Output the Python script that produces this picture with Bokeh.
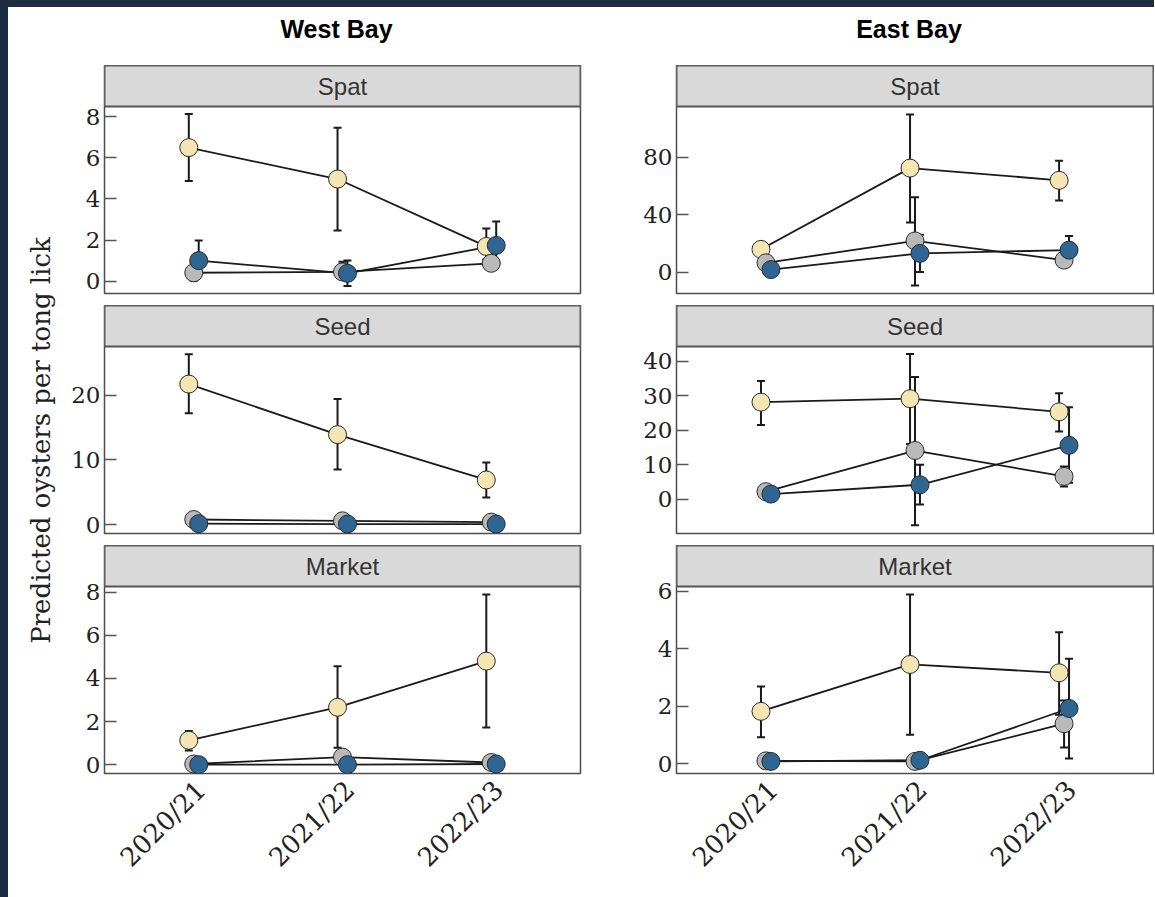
import math

from bokeh.embed import file_html
from bokeh.layouts import column, row
from bokeh.models import (BoxAnnotation, ColumnDataSource, FixedTicker, Label,
                          Range1d, Spacer, TeeHead, Whisker)
from bokeh.plotting import figure
from bokeh.resources import INLINE
from bokeh.transform import dodge

# ---------------------------------------------------------------- data
seasons = ["2020/21", "2021/22", "2022/23"]
bays = ["West Bay", "East Bay"]
size_classes = ["Spat", "Seed", "Market"]

# series order: cream, grey, blue (rows); seasons (columns)
west_spat_mean = [[6.50, 4.97, 1.69], [0.41, 0.45, 0.87], [1.00, 0.38, 1.74]]
west_spat_lo = [[4.88, 2.46, 1.05], [0.02, 0.10, 0.55], [0.45, -0.23, 0.95]]
west_spat_hi = [[8.13, 7.47, 2.56], [0.90, 0.95, 1.20], [1.98, 1.00, 2.90]]

west_seed_mean = [[21.7, 13.9, 6.9], [0.8, 0.6, 0.4], [0.15, 0.10, 0.10]]
west_seed_lo = [[17.2, 8.5, 4.2], [0.3, 0.2, 0.1], [0.0, 0.0, 0.0]]
west_seed_hi = [[26.3, 19.4, 9.6], [1.3, 1.0, 0.7], [0.4, 0.3, 0.3]]

west_market_mean = [[1.13, 2.66, 4.80], [0.03, 0.35, 0.10], [0.00, 0.00, 0.03]]
west_market_lo = [[0.66, 0.78, 1.72], [0.00, 0.05, 0.00], [0.00, 0.00, 0.00]]
west_market_hi = [[1.56, 4.56, 7.89], [0.08, 0.60, 0.25], [0.02, 0.02, 0.08]]

east_spat_mean = [[15.8, 72.5, 64.0], [6.4, 21.7, 8.3], [1.7, 13.0, 15.3]]
east_spat_lo = [[12.0, 34.6, 49.9], [3.0, -9.4, 5.0], [0.5, 0.0, 8.0]]
east_spat_hi = [[19.0, 110.0, 77.6], [10.0, 52.2, 12.0], [3.5, 26.0, 25.2]]

east_seed_mean = [[28.1, 29.1, 25.3], [2.2, 14.1, 6.6], [1.5, 4.2, 15.6]]
east_seed_lo = [[21.5, 16.0, 19.6], [1.2, -7.5, 3.7], [0.8, -1.5, 4.8]]
east_seed_hi = [[34.2, 42.0, 30.7], [3.2, 35.4, 9.5], [2.4, 10.0, 26.6]]

east_market_mean = [[1.82, 3.45, 3.16], [0.10, 0.08, 1.39], [0.08, 0.12, 1.92]]
east_market_lo = [[0.92, 1.01, 1.70], [0.02, 0.02, 0.56], [0.02, 0.03, 0.18]]
east_market_hi = [[2.68, 5.88, 4.57], [0.20, 0.15, 2.20], [0.15, 0.22, 3.65]]

# axis limits and ticks per panel
west_spat_ylim = [-0.6, 8.5]
west_seed_ylim = [-1.36, 27.5]
west_market_ylim = [-0.41, 8.26]
east_spat_ylim = [-15.0, 115.5]
east_seed_ylim = [-9.9, 44.2]
east_market_ylim = [-0.34, 6.16]

west_spat_ticks = [0, 2, 4, 6, 8]
west_seed_ticks = [0, 10, 20]
west_market_ticks = [0, 2, 4, 6, 8]
east_spat_ticks = [0, 40, 80]
east_seed_ticks = [0, 10, 20, 30, 40]
east_market_ticks = [0, 2, 4, 6]

y_title = "Predicted oysters per tong lick"

# ---------------------------------------------------------------- style
SERIES_FILL = ["#f3e6b3", "#b9b9b9", "#2f6593"]
DODGE = [-0.0333, 0.0, 0.0333]
LABEL_NUDGE = 0.05          # rotated season labels sit a little right of the tick
INK = "#1a1a1a"
FRAME_W, STRIP_H, PANEL_H = 477, 41, 187
HEAD_H, GAP, FOOT_H = 58, 12, 117
HEAD_Y = 21                 # heading centre, px below the top of its band
LABEL_W = 60
SERIF = "DejaVu Serif"
SANS = "Liberation Sans"
X_LO, X_HI = 0.4, len(seasons) + 0.6


def borders(first_col):
    return (35, 10) if first_col else (86, 1)


def bare(width, height, left=0, right=0):
    """An empty canvas for free-standing text."""
    f = figure(width=width, height=height, x_range=Range1d(0, 1), y_range=Range1d(0, 1),
               x_axis_location=None, y_axis_location=None,
               min_border_left=left, min_border_right=right,
               min_border_top=0, min_border_bottom=0,
               toolbar_location=None, output_backend="svg")
    f.grid.visible = False
    f.outline_line_color = None
    f.background_fill_color = "white"
    f.border_fill_color = "white"
    return f


def heading(text, first_col):
    left, right = borders(first_col)
    h = bare(left + FRAME_W + right, HEAD_H, left, right)
    h.add_layout(Label(x=0.5, y=1 - HEAD_Y / HEAD_H, x_offset=-6,
                       text=text, text_align="center", text_baseline="middle",
                       text_font=SANS, text_font_size="25px",
                       text_font_style="bold", text_color="black"))
    return h


def panel(name, mean, lo, hi, ylim, ticks, first_col, bottom):
    left, right = borders(first_col)
    foot = FOOT_H if bottom else GAP
    # the facet strip sits on top of the data area, inside the same frame
    strip_span = (ylim[1] - ylim[0]) * STRIP_H / PANEL_H
    p = figure(width=left + FRAME_W + right, height=STRIP_H + PANEL_H + foot,
               x_range=Range1d(X_LO, X_HI),
               y_range=Range1d(ylim[0], ylim[1] + strip_span),
               x_axis_location="below" if bottom else None,
               min_border_left=left, min_border_right=right,
               min_border_top=0, min_border_bottom=foot,
               toolbar_location=None, output_backend="svg")
    p.grid.visible = False
    p.background_fill_color = "white"
    p.border_fill_color = "white"
    p.outline_line_color = "#4d4d4d"
    p.outline_line_width = 1.5

    idx = list(range(1, len(seasons) + 1))
    sources = [ColumnDataSource(dict(idx=idx, season=seasons, mean=mean[i],
                                     lo=lo[i], hi=hi[i]))
               for i in range(len(mean))]

    for i, src in enumerate(sources):
        p.add_layout(Whisker(source=src, base=dodge("idx", DODGE[i]),
                             upper="hi", lower="lo", level="underlay",
                             line_color=INK, line_width=2,
                             upper_head=TeeHead(size=8, line_color=INK, line_width=2),
                             lower_head=TeeHead(size=8, line_color=INK, line_width=2)))
    for i, src in enumerate(sources):
        p.line(x=dodge("idx", DODGE[i]), y="mean", source=src,
               line_color=INK, line_width=1.8)
    for i, src in enumerate(sources):
        p.scatter(x=dodge("idx", DODGE[i]), y="mean", source=src, size=18,
                  fill_color=SERIES_FILL[i], line_color="#2b2b2b", line_width=1)

    # facet strip
    p.add_layout(BoxAnnotation(bottom=ylim[1], fill_color="#d9d9d9", fill_alpha=1,
                               line_color="#555555", line_width=2, line_alpha=1))
    p.add_layout(Label(x=(X_LO + X_HI) / 2, y=ylim[1] + strip_span / 2, text=name,
                       text_align="center", text_baseline="middle",
                       text_font=SANS, text_font_size="24px", text_color="#333333"))

    ya = p.yaxis[0]
    ya.ticker = FixedTicker(ticks=ticks)
    ya.axis_line_color = None
    ya.major_tick_in = 12
    ya.major_tick_out = 0
    ya.major_tick_line_color = "#555555"
    ya.major_tick_line_width = 1.5
    ya.minor_tick_line_color = None
    ya.major_label_text_font = SERIF
    ya.major_label_text_font_size = "23px"
    ya.major_label_text_color = "#222222"
    ya.major_label_standoff = 4

    if bottom:
        xa = p.xaxis[0]
        label_at = [k + LABEL_NUDGE for k in idx]
        xa.ticker = FixedTicker(ticks=label_at)
        xa.major_label_overrides = {k: s for k, s in zip(label_at, seasons)}
        xa.axis_line_color = None
        xa.major_tick_line_color = None
        xa.major_tick_in = 0
        xa.major_tick_out = 0
        xa.minor_tick_line_color = None
        xa.major_label_orientation = math.pi / 4
        xa.major_label_standoff = 12
        xa.major_label_text_font = SERIF
        xa.major_label_text_font_size = "26px"
        xa.major_label_text_color = "#222222"
    return p


west = column(
    heading(bays[0], True),
    panel(size_classes[0], west_spat_mean, west_spat_lo, west_spat_hi, west_spat_ylim,
          west_spat_ticks, True, False),
    panel(size_classes[1], west_seed_mean, west_seed_lo, west_seed_hi, west_seed_ylim,
          west_seed_ticks, True, False),
    panel(size_classes[2], west_market_mean, west_market_lo, west_market_hi, west_market_ylim,
          west_market_ticks, True, True),
    spacing=0)

east = column(
    heading(bays[1], False),
    panel(size_classes[0], east_spat_mean, east_spat_lo, east_spat_hi, east_spat_ylim,
          east_spat_ticks, False, False),
    panel(size_classes[1], east_seed_mean, east_seed_lo, east_seed_hi, east_seed_ylim,
          east_seed_ticks, False, False),
    panel(size_classes[2], east_market_mean, east_market_lo, east_market_hi, east_market_ylim,
          east_market_ticks, False, True),
    spacing=0)

# shared y-axis title down the left side
col_h = HEAD_H + 3 * (STRIP_H + PANEL_H) + 2 * GAP + FOOT_H
ylab = bare(LABEL_W, col_h)
ylab.add_layout(Label(x=0.54, y=0.5096, text=y_title, angle=math.pi / 2,
                      text_align="center", text_baseline="middle",
                      text_font=SERIF, text_font_size="26px", text_color="#222222"))

DARK = {"background-color": "#1c2b3f"}
page = row(
    Spacer(width=8, height=897, styles=DARK),
    column(Spacer(width=1146, height=7, styles=DARK),
           row(ylab, west, east, spacing=0), spacing=0),
    spacing=0)

open("out.html", "w").write(file_html(page, INLINE))
